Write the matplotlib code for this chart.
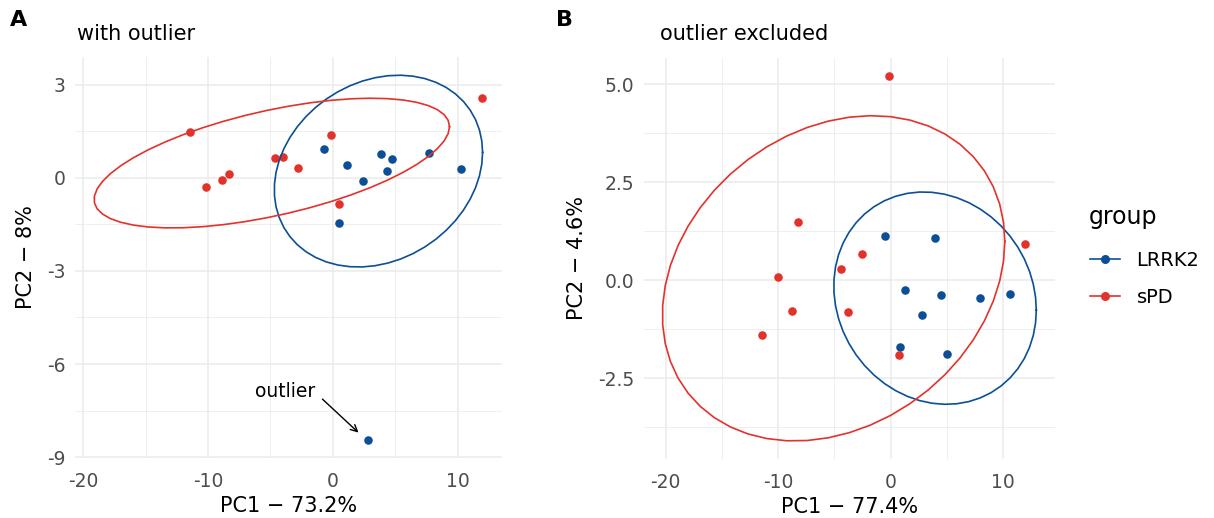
import numpy as np
import matplotlib
matplotlib.use("Agg")
import matplotlib.pyplot as plt
from matplotlib.lines import Line2D

plt.rcParams["font.family"] = ["DejaVu Sans"]

# ---- data: PCA scores ----
groups = ["LRRK2", "sPD"]
colors = {"LRRK2": "#0C4F97", "sPD": "#E3322B"}

# panel A: with outlier
a_lrrk2_pc1 = [-0.67, 1.12, 2.44, 3.88, 4.73, 4.36, 7.73, 10.30, 0.51, 2.81]
a_lrrk2_pc2 = [0.94, 0.40, -0.11, 0.77, 0.60, 0.23, 0.81, 0.27, -1.45, -8.44]
a_spd_pc1 = [-11.41, -10.16, -8.87, -8.29, -4.60, -4.03, -2.75, -0.18, 0.46, 11.95]
a_spd_pc2 = [1.47, -0.30, -0.07, 0.13, 0.63, 0.66, 0.33, 1.38, -0.85, 2.56]

# panel B: outlier excluded
b_lrrk2_pc1 = [-0.54, 3.93, 1.31, 4.43, 7.97, 10.59, 2.79, 0.86, 5.03]
b_lrrk2_pc2 = [1.12, 1.08, -0.26, -0.39, -0.45, -0.36, -0.88, -1.71, -1.89]
b_spd_pc1 = [-0.12, -8.21, -10.00, -8.81, -11.40, -4.41, -2.56, -3.81, 0.74, 11.90]
b_spd_pc2 = [5.20, 1.48, 0.09, -0.80, -1.41, 0.27, 0.67, -0.81, -1.90, 0.93]

a_xticks = [-20, -10, 0, 10]
a_yticks = [3, 0, -3, -6, -9]
b_xticks = [-20, -10, 0, 10]
b_yticks = [5.0, 2.5, 0.0, -2.5]
a_xlabel, a_ylabel = "PC1 \u2212 73.2%", "PC2 \u2212 8%"
b_xlabel, b_ylabel = "PC1 \u2212 77.4%", "PC2 \u2212 4.6%"

# outlier callout (data coordinates of panel A)
outlier_label_xy = (-3.79, -6.87)
outlier_arrow_from = (-0.83, -7.13)
outlier_arrow_to = (2.06, -8.21)


def cov_trob(x, nu=5, maxit=25, tol=0.01):
    """Robust multivariate-t location/scatter estimate (as MASS::cov.trob)."""
    n, p = x.shape
    wt = np.ones(n)
    loc = x.mean(axis=0)
    w = np.sqrt(wt)
    for _ in range(maxit):
        w0 = w
        X = x - loc
        _, d, vt = np.linalg.svd(np.sqrt(w / w.sum())[:, None] * X, full_matrices=False)
        wX = X @ vt.T @ np.diag(1.0 / d)
        Q = (wX ** 2).sum(axis=1)
        w = wt * (nu + p) / (nu + Q)
        loc = (w[:, None] * x).sum(axis=0) / w.sum()
        if np.all(np.abs(w - w0) < tol):
            break
    cov = (np.sqrt(w)[:, None] * X).T @ (np.sqrt(w)[:, None] * X) / wt.sum()
    return loc, cov


def ellipse_path(px, py, level=0.95, segments=51):
    x = np.column_stack([px, py])
    center, shape = cov_trob(x)
    dfd = len(px) - 1
    qf = dfd / 2.0 * ((1 - level) ** (-2.0 / dfd) - 1)
    radius = np.sqrt(2 * qf)
    ang = np.linspace(0, 2 * np.pi, segments + 1)
    circle = np.column_stack([np.cos(ang), np.sin(ang)])
    chol = np.linalg.cholesky(shape).T
    e = center + radius * circle @ chol
    return e[:, 0], e[:, 1]


W, H = 1214, 518
fig = plt.figure(figsize=(W / 100, H / 100), dpi=100)


def px_axes(l, t, r, b):
    return fig.add_axes([l / W, 1 - b / H, (r - l) / W, (b - t) / H])


def draw_panel(ax, data, xticks, yticks, xminor, yminor, xlabel, ylabel, ylabfmt):
    ex_all, ey_all = [], []
    for g, (px, py) in zip(groups, data):
        ax.scatter(px, py, s=38, color=colors[g], zorder=3, linewidths=0)
    for g, (px, py) in zip(groups, data):
        ex, ey = ellipse_path(px, py)
        ax.plot(ex, ey, color=colors[g], lw=1.2, zorder=4)
        ex_all += list(ex) + list(px)
        ey_all += list(ey) + list(py)
    x0, x1 = min(ex_all), max(ex_all)
    y0, y1 = min(ey_all), max(ey_all)
    ax.set_xlim(x0 - 0.05 * (x1 - x0), x1 + 0.05 * (x1 - x0))
    ax.set_ylim(y0 - 0.05 * (y1 - y0), y1 + 0.05 * (y1 - y0))
    ax.set_xticks(xticks)
    ax.set_xticklabels([f"{v:g}" for v in xticks])
    ax.set_yticks(yticks)
    ax.set_yticklabels([ylabfmt(v) for v in yticks])
    ax.set_xticks(xminor, minor=True)
    ax.set_yticks(yminor, minor=True)
    ax.grid(True, which="major", color="#EBEBEB", lw=1.1, zorder=0)
    ax.grid(True, which="minor", color="#EBEBEB", lw=0.55, zorder=0)
    ax.set_axisbelow(True)
    for s in ax.spines.values():
        s.set_visible(False)
    ax.tick_params(which="both", length=0, labelsize=13.5, labelcolor="#4D4D4D")
    ax.tick_params(axis="x", pad=10)
    ax.tick_params(axis="y", pad=7)
    ax.set_xlabel(xlabel, fontsize=15, color="black", labelpad=3.5)
    ax.set_ylabel(ylabel, fontsize=15, color="black", labelpad=8)


ax1 = px_axes(75, 57, 502, 458)
draw_panel(ax1,
           [(a_lrrk2_pc1, a_lrrk2_pc2), (a_spd_pc1, a_spd_pc2)],
           a_xticks, a_yticks, [-15, -5, 5], [1.5, -1.5, -4.5, -7.5],
           a_xlabel, a_ylabel, lambda v: f"{v:g}")
ax1.text(*outlier_label_xy, "outlier", ha="center", va="center", fontsize=13.5)
ax1.annotate("", xy=outlier_arrow_to, xytext=outlier_arrow_from,
             arrowprops=dict(arrowstyle="->", color="black", lw=1.0,
                             mutation_scale=12, shrinkA=0, shrinkB=0))

ax2 = px_axes(644, 58, 1055, 459)
draw_panel(ax2,
           [(b_lrrk2_pc1, b_lrrk2_pc2), (b_spd_pc1, b_spd_pc2)],
           b_xticks, b_yticks, [-15, -5, 5], [3.75, 1.25, -1.25, -3.75],
           b_xlabel, b_ylabel, lambda v: f"{v:.1f}")

# titles and panel tags
fig.text(77 / W, 1 - 34 / H, "with outlier", fontsize=15, ha="left", va="center")
fig.text(660 / W, 1 - 34 / H, "outlier excluded", fontsize=15, ha="left", va="center")
fig.text(10 / W, 1 - 20 / H, "A", fontsize=16, fontweight="bold", ha="left", va="center")
fig.text(556 / W, 1 - 20 / H, "B", fontsize=16, fontweight="bold", ha="left", va="center")

# legend
fig.text(1089 / W, 1 - 217 / H, "group", fontsize=17, ha="left", va="center")
handles = [Line2D([0], [0], color=colors[g], lw=1.2, marker="o", markersize=6.5,
                  markeredgewidth=0) for g in groups]
leg = fig.legend(handles, groups, loc="center left",
                 bbox_to_anchor=(1082 / W, 1 - 279 / H), frameon=False,
                 fontsize=14, handlelength=1.55, borderaxespad=0,
                 labelspacing=0.9, handletextpad=0.85)

fig.savefig("out.png", dpi=100, facecolor="white")
